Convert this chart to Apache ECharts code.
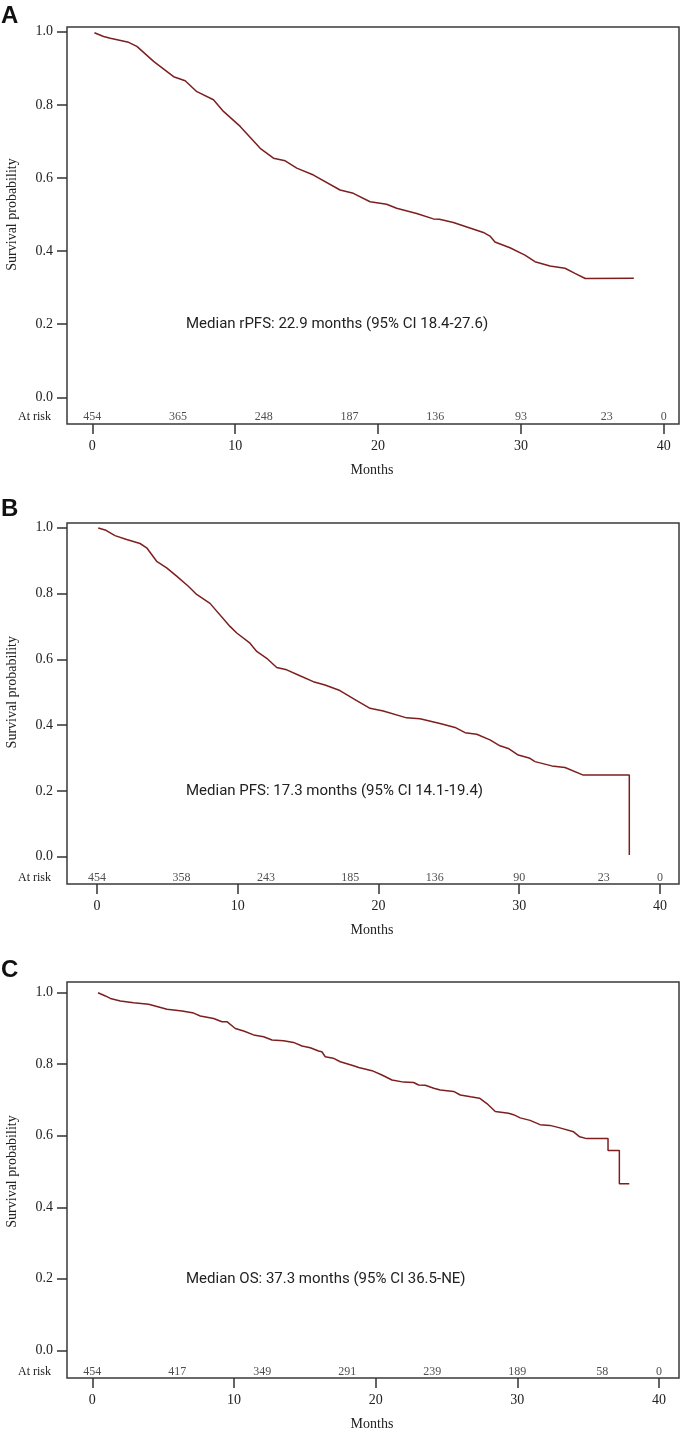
<!DOCTYPE html>
<html>
<head>
<meta charset="utf-8">
<script src="https://cdn.jsdelivr.net/npm/echarts@6/dist/echarts.min.js"></script>
<style>
html,body{margin:0;padding:0;background:#fff;}
#chart{width:680px;height:1433px;}
</style>
</head>
<body>
<div id="chart"></div>
<script>
// ---------- DATA ----------
const xTickValues = [0, 10, 20, 30, 40];
const yTickValues = [0, 0.2, 0.4, 0.6, 0.8, 1.0];
const riskTimes = [0, 6, 12, 18, 24, 30, 36, 40];

// Panel A: rPFS
const timeA = [0.15,0.79,1.26,2.54,3.12,4.29,5.69,6.5,7.32,8.48,9.18,10.35,11.75,12.68,13.5,14.31,15.48,17.34,18.27,19.44,20.6,21.3,22.7,23.87,24.3,25.27,27.37,27.83,28.18,29.23,30.28,30.98,32.03,33.08,33.78,34.5,37.9];
const survA = [0.997,0.987,0.982,0.971,0.960,0.919,0.877,0.866,0.836,0.814,0.782,0.741,0.681,0.654,0.647,0.627,0.608,0.567,0.558,0.535,0.528,0.517,0.503,0.488,0.487,0.478,0.451,0.441,0.425,0.409,0.389,0.371,0.359,0.353,0.339,0.325,0.326];
const riskA = [454, 365, 248, 187, 136, 93, 23, 0];
const medianA = 'Median rPFS: 22.9 months (95% CI 18.4-27.6)';

// Panel B: PFS
const timeB = [0.09,0.64,1.28,2.11,3.06,3.53,4.24,4.95,5.66,6.49,7.08,8.03,9.45,9.93,10.87,11.35,12.06,12.77,13.48,14.42,15.37,16.2,17.26,18.3,19.4,20.34,22.0,22.95,24.37,25.44,26.15,26.98,27.92,28.63,29.22,29.93,30.76,31.12,32.31,33.25,34.55,37.82,37.82];
const survB = [0.999,0.992,0.976,0.964,0.952,0.939,0.898,0.878,0.853,0.822,0.797,0.770,0.700,0.680,0.649,0.624,0.603,0.575,0.568,0.550,0.532,0.522,0.505,0.478,0.451,0.443,0.422,0.419,0.405,0.393,0.377,0.372,0.355,0.337,0.329,0.309,0.299,0.289,0.276,0.271,0.248,0.248,0.005];
const riskB = [454, 358, 243, 185, 136, 90, 23, 0];
const medianB = 'Median PFS: 17.3 months (95% CI 14.1-19.4)';

// Panel C: OS
const timeC = [0.4,0.92,1.27,1.98,2.91,3.97,5.27,6.33,7.15,7.62,8.56,9.15,9.5,10.09,10.68,11.38,12.09,12.68,13.5,14.2,14.8,15.38,15.97,16.2,16.44,17.0,17.5,18.44,18.8,19.74,20.44,21.15,21.97,22.68,23.03,23.5,24.1,24.56,25.5,25.97,26.7,27.33,27.85,28.44,29.38,29.73,30.2,30.9,31.6,32.3,33.0,33.97,34.4,34.9,36.4,36.4,37.2,37.2,37.9];
const survC = [1.0,0.991,0.984,0.977,0.972,0.968,0.954,0.949,0.943,0.935,0.928,0.919,0.919,0.900,0.893,0.882,0.877,0.868,0.866,0.861,0.851,0.846,0.837,0.835,0.821,0.817,0.807,0.796,0.791,0.782,0.770,0.756,0.750,0.749,0.742,0.741,0.733,0.728,0.724,0.714,0.709,0.705,0.690,0.668,0.663,0.659,0.650,0.643,0.631,0.629,0.622,0.611,0.597,0.592,0.592,0.559,0.559,0.466,0.466];
const riskC = [454, 417, 349, 291, 239, 189, 58, 0];
const medianC = 'Median OS: 37.3 months (95% CI 36.5-NE)';

// ---------- LAYOUT ----------
const panels = [
  {letter:'A', time:timeA, surv:survA, risk:riskA, median:medianA,
   top:27, height:397, xMin:-1.77, xMax:41.06, yMin:-0.073, yMax:1.0129, riskY:-0.053, letterY:16},
  {letter:'B', time:timeB, surv:survB, risk:riskB, median:medianB,
   top:523, height:361, xMin:-2.13, xMax:41.35, yMin:-0.083, yMax:1.0143, riskY:-0.064, letterY:509},
  {letter:'C', time:timeC, surv:survC, risk:riskC, median:medianC,
   top:982, height:396, xMin:-1.79, xMax:41.41, yMin:-0.0775, yMax:1.030, riskY:-0.060, letterY:970}
];

const SERIF = '"Liberation Serif","Times New Roman",serif';
const SANS_NARROW = '"Liberation Sans Narrow","Roboto","Noto Sans",sans-serif';
const LINE_COLOR = '#7d1f1f';
const AXIS_COLOR = '#333';

const grids = [], xAxes = [], yAxes = [], series = [];
panels.forEach((p, i) => {
  grids.push({left:67, right:1, top:p.top, height:p.height, show:true,
    borderColor:'#3a3a3a', borderWidth:1.5, backgroundColor:'transparent'});
  xAxes.push({type:'value', gridIndex:i, min:p.xMin, max:p.xMax, position:'bottom',
    axisLine:{show:false, onZero:false},
    splitLine:{show:false},
    axisTick:{show:true, inside:false, customValues:xTickValues, length:10, lineStyle:{color:AXIS_COLOR, width:1.5}},
    axisLabel:{show:true, customValues:xTickValues, margin:15, color:'#222',
      fontFamily:SERIF, fontSize:14, formatter:v => String(Math.round(v))}
  });
  yAxes.push({type:'value', gridIndex:i, min:p.yMin, max:p.yMax, position:'left',
    axisLine:{show:false, onZero:false},
    splitLine:{show:false},
    axisTick:{show:true, inside:false, customValues:yTickValues, length:10, lineStyle:{color:AXIS_COLOR, width:1.5}},
    axisLabel:{show:true, customValues:yTickValues, margin:14, color:'#222',
      fontFamily:SERIF, fontSize:14, formatter:v => v.toFixed(1)}
  });
  series.push({type:'line', xAxisIndex:i, yAxisIndex:i, symbol:'none', silent:true,
    lineStyle:{color:LINE_COLOR, width:1.5},
    data:p.time.map((t, k) => [t, p.surv[k]])});
  series.push({type:'scatter', xAxisIndex:i, yAxisIndex:i, symbolSize:0, silent:true,
    label:{show:true, position:'inside', color:'#222', fontFamily:SERIF, fontSize:12,
      formatter:prm => String(prm.value[2])},
    data:riskTimes.map((t, k) => [t, p.riskY, p.risk[k]])});
});

const chart = echarts.init(document.getElementById('chart'), null, {renderer:'canvas'});
chart.setOption({
  animation:false,
  backgroundColor:'#fff',
  grid:grids, xAxis:xAxes, yAxis:yAxes, series:series
});

// Text annotations positioned from the axes' scales
const graphics = [];
panels.forEach((p, i) => {
  const mid = chart.convertToPixel({gridIndex:i}, [0, 0.5]);
  const lvl = chart.convertToPixel({gridIndex:i}, [0, 0.2]);
  const risk = chart.convertToPixel({gridIndex:i}, [0, p.riskY]);
  graphics.push({type:'text', x:1, y:p.letterY, style:{text:p.letter, font:'bold 24px "Liberation Sans",Arial,sans-serif', fill:'#111', textAlign:'left', textVerticalAlign:'middle'}});
  graphics.push({type:'text', x:12, y:mid[1], rotation:Math.PI/2, style:{text:'Survival probability', font:'14px ' + SERIF, fill:'#222', textAlign:'center', textVerticalAlign:'middle'}});
  graphics.push({type:'text', x:51, y:risk[1], style:{text:'At risk', font:'12px ' + SERIF, fill:'#222', textAlign:'right', textVerticalAlign:'middle'}});
  graphics.push({type:'text', x:186, y:lvl[1], style:{text:p.median, font:'15px ' + SANS_NARROW, fill:'#222', textAlign:'left', textVerticalAlign:'middle'}});
  graphics.push({type:'text', x:372, y:p.top + p.height + 46, style:{text:'Months', font:'14px ' + SERIF, fill:'#222', textAlign:'center', textVerticalAlign:'middle'}});
});
chart.setOption({graphic:graphics});
</script>
</body>
</html>
